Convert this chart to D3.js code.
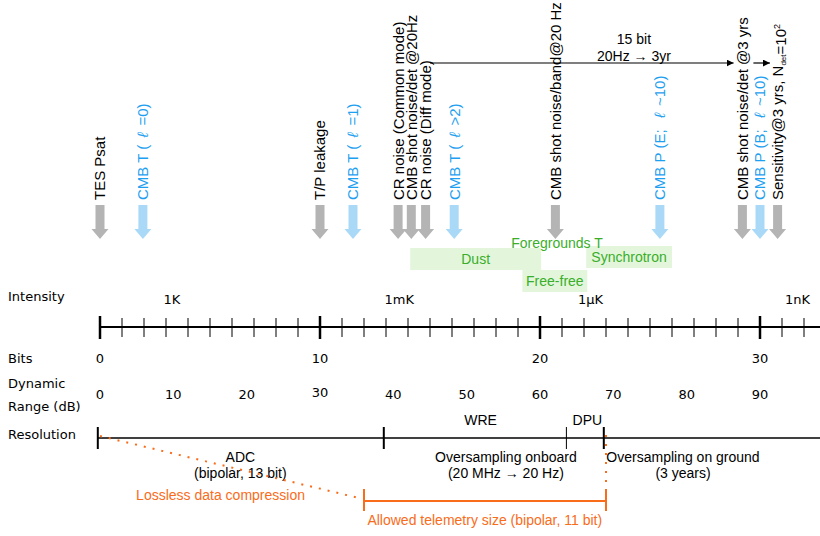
<!DOCTYPE html>
<html>
<head>
<meta charset="utf-8">
<script src="https://cdn.jsdelivr.net/npm/d3@7"></script>
<style>
  body { margin: 0; background: #fff; }
  text { font-family: "Liberation Sans", Arial, sans-serif; white-space: pre; }
  .verd { font-family: "DejaVu Sans", Verdana, sans-serif; font-size: 13px; }
</style>
</head>
<body>
<div id="chart"></div>
<script>
// ---- data (positions along the axis are in bits) ----
const bitTicks = d3.range(0, 33);
const bitMajor = [0, 10, 20, 30];
const intensityLabels = ["1K", "1mK", "1\u03bcK", "1nK"];
const intensityBits = [3.27, 13.6, 22.3, 31.7];
const dbTicks = [0, 10, 20, 30, 40, 50, 60, 70, 80, 90];

const markerLabels = ["TES Psat", "CMB T ( \u2009\u2113\u2009 =0)", "T/P leakage", "CMB T ( \u2009\u2113\u2009 =1)",
  "CR noise (Common mode)", "CMB shot noise/det @20Hz", "CR noise (Diff mode)", "CMB T ( \u2009\u2113\u2009 >2)",
  "CMB shot noise/band@20 Hz", "CMB P (E;  \u2009\u2113\u2009 ~10)", "CMB shot noise/det @3 yrs",
  "CMB P (B;  \u2009\u2113\u2009 ~10)", "Sensitivity@3 yrs, N_det=10^2"];
const markerBits = [0, 1.95, 10, 11.5, 13.55, 14.15, 14.8, 16.1, 20.7, 25.45, 29.2, 30.0, 30.8];
const markerType = ["n", "c", "n", "c", "n", "n", "n", "c", "n", "c", "n", "c", "n"];

const fgNames = ["Dust", "Free-free", "Synchrotron"];
const fgStart = [14.1, 19.2, 22.1];
const fgEnd = [20.05, 22.15, 26.0];

const resTickBits = [-0.1, 12.9, 21.2, 22.9];
const resTickMajor = [true, true, false, true];
const stageTop = ["WRE", "DPU"];
const stageTopBits = [17.3, 22.15];
const stageLabels = [["ADC", "(bipolar, 13 bit)"], ["Oversampling onboard", "(20 MHz \u2192 20 Hz)"],
  ["Oversampling on ground", "(3 years)"]];
const stageBits = [6.38, 18.45, 26.5];

const telemetryBits = [12, 23];
const oversampleBits = [15.0, 28.8];
const oversampleBits2 = [29.7, 30.45];

// ---- layout ----
const W = 820, H = 536;
const gray = "#b4b4b4", lblue = "#aad9f7", blue = "#1ea0f0", green = "#3aae2a",
  lgreen = "#e3f6dc", orange = "#f96c1a";

const x = d3.scaleLinear().domain([0, 30]).range([100, 760]);
const xdb = d3.scaleLinear().domain([0, 90]).range([100, 760]);

const svg = d3.select("#chart").append("svg").attr("width", W).attr("height", H);

const defs = svg.append("defs");
defs.append("marker").attr("id", "ah").attr("viewBox", "0 0 10 10")
  .attr("refX", 10).attr("refY", 5).attr("markerWidth", 7).attr("markerHeight", 7)
  .attr("markerUnits", "userSpaceOnUse").attr("orient", "auto")
  .append("path").attr("d", "M0,0L10,5L0,10z").attr("fill", "#000");

// row labels
const rows = [["Intensity", 301], ["Bits", 363], ["Dynamic", 388], ["Range (dB)", 411], ["Resolution", 439]];
svg.selectAll("text.row").data(rows).join("text").attr("class", "row verd")
  .attr("x", 8).attr("y", d => d[1]).text(d => d[0]);

// intensity axis
const axY = 327;
svg.append("line").attr("x1", x(0)).attr("x2", W).attr("y1", axY).attr("y2", axY)
  .attr("stroke", "#000").attr("stroke-width", 2);
svg.selectAll("line.bt").data(bitTicks).join("line").attr("class", "bt")
  .attr("x1", d => x(d)).attr("x2", d => x(d))
  .attr("y1", d => bitMajor.includes(d) ? axY - 11 : axY - 9)
  .attr("y2", d => bitMajor.includes(d) ? axY + 12 : axY + 10)
  .attr("stroke", "#000").attr("stroke-width", d => bitMajor.includes(d) ? 2.5 : 1);
svg.selectAll("text.int").data(intensityLabels).join("text").attr("class", "int verd")
  .attr("x", (d, i) => x(intensityBits[i])).attr("y", 304).attr("text-anchor", "middle").text(d => d);
svg.selectAll("text.bits").data(bitMajor).join("text").attr("class", "bits verd")
  .attr("x", d => x(d)).attr("y", 363).attr("text-anchor", "middle").text(d => d);
svg.selectAll("text.db").data(dbTicks).join("text").attr("class", "db verd")
  .attr("x", d => xdb(d)).attr("y", d => d === 30 ? 397 : 399).attr("text-anchor", "middle").text(d => d);

// arrows
const shaftW = 9, headW = 17, top0 = 205, headY = 229, tip = 239;
svg.selectAll("path.arr").data(markerBits).join("path").attr("class", "arr")
  .attr("d", d => {
    const cx = x(d);
    return `M${cx - shaftW / 2},${top0}H${cx + shaftW / 2}V${headY}H${cx + headW / 2}L${cx},${tip}L${cx - headW / 2},${headY}H${cx - shaftW / 2}Z`;
  })
  .attr("fill", (d, i) => markerType[i] === "c" ? lblue : gray);

// rotated labels
function addRich(sel, s) {
  // handle ℓ (italic), _sub and ^sup
  const re = /(\u2113|_[a-z]+|\^[0-9]+)/;
  s.split(re).filter(p => p !== "").forEach(p => {
    if (p === "\u2113") sel.append("tspan").attr("font-style", "italic").text(p);
    else if (p[0] === "_") {
      sel.append("tspan").attr("font-size", "8px").attr("dy", 3).text(p.slice(1));
      sel.append("tspan").attr("dy", -3).text("");
    } else if (p[0] === "^") {
      sel.append("tspan").attr("font-size", "9px").attr("dy", -6).text(p.slice(1));
    } else sel.append("tspan").text(p);
  });
}
markerLabels.forEach((lab, i) => {
  const t = svg.append("text")
    .attr("transform", `translate(${x(markerBits[i])},200) rotate(-90)`)
    .attr("dy", "0.36em").attr("font-size", "15px")
    .attr("fill", markerType[i] === "c" ? blue : "#000");
  addRich(t, lab);
});

// 15-bit oversampling arrows
svg.append("line").attr("x1", x(oversampleBits[0])).attr("x2", x(oversampleBits[1]))
  .attr("y1", 63).attr("y2", 63).attr("stroke", "#000").attr("stroke-width", 1.2)
  .attr("marker-end", "url(#ah)");
svg.append("line").attr("x1", x(oversampleBits2[0])).attr("x2", x(oversampleBits2[1]))
  .attr("y1", 63).attr("y2", 63).attr("stroke", "#000").attr("stroke-width", 1.2)
  .attr("marker-end", "url(#ah)");
const midOS = x(24.27);
svg.append("text").attr("x", midOS).attr("y", 44).attr("text-anchor", "middle")
  .attr("font-size", "14px").text("15 bit");
svg.append("text").attr("x", midOS).attr("y", 61).attr("text-anchor", "middle")
  .attr("font-size", "14px").text("20Hz \u2192 3yr");

// foregrounds
const fgTop = { "Dust": 248, "Free-free": 270, "Synchrotron": 246 };
fgNames.forEach((n, i) => {
  svg.append("rect").attr("x", x(fgStart[i])).attr("y", fgTop[n])
    .attr("width", x(fgEnd[i]) - x(fgStart[i])).attr("height", 22).attr("fill", lgreen);
  svg.append("text").attr("x", (x(fgStart[i]) + x(fgEnd[i])) / 2).attr("y", fgTop[n] + 16)
    .attr("text-anchor", "middle").attr("font-size", "14px").attr("fill", green).text(n);
});
svg.append("text").attr("x", x(20.77)).attr("y", 247.5).attr("text-anchor", "middle")
  .attr("font-size", "14px").attr("fill", green).text("Foregrounds T");

// resolution line
const rY = 438;
svg.append("line").attr("x1", x(resTickBits[0])).attr("x2", W).attr("y1", rY).attr("y2", rY)
  .attr("stroke", "#000").attr("stroke-width", 1.5);
svg.selectAll("line.rt").data(resTickBits).join("line").attr("class", "rt")
  .attr("x1", d => x(d)).attr("x2", d => x(d)).attr("y1", rY - 11).attr("y2", rY + 11)
  .attr("stroke", "#000").attr("stroke-width", (d, i) => resTickMajor[i] ? 2 : 1);
svg.selectAll("text.st").data(stageTop).join("text").attr("class", "st")
  .attr("x", (d, i) => x(stageTopBits[i])).attr("y", 425).attr("text-anchor", "middle")
  .attr("font-size", "14px").text(d => d);
stageLabels.forEach((pair, i) => {
  pair.forEach((s, j) => {
    svg.append("text").attr("x", x(stageBits[i])).attr("y", 462 + j * 16)
      .attr("text-anchor", "middle").attr("font-size", "14px").text(s);
  });
});

// orange: lossless compression and telemetry
const tY = 501;
svg.append("line").attr("x1", x(0)).attr("y1", rY - 2).attr("x2", x(telemetryBits[0]) - 5).attr("y2", tY - 3)
  .attr("stroke", orange).attr("stroke-width", 2).attr("stroke-dasharray", "2,7");
svg.append("line").attr("x1", x(telemetryBits[1])).attr("x2", x(telemetryBits[1]))
  .attr("y1", rY - 3).attr("y2", tY - 12)
  .attr("stroke", orange).attr("stroke-width", 2).attr("stroke-dasharray", "2,7");
svg.append("line").attr("x1", x(telemetryBits[0])).attr("x2", x(telemetryBits[1]))
  .attr("y1", tY).attr("y2", tY).attr("stroke", orange).attr("stroke-width", 2);
telemetryBits.forEach(b => {
  svg.append("line").attr("x1", x(b)).attr("x2", x(b)).attr("y1", tY - 12).attr("y2", tY + 10)
    .attr("stroke", orange).attr("stroke-width", 2);
});
svg.append("text").attr("x", x(5.48)).attr("y", 500).attr("text-anchor", "middle")
  .attr("font-size", "14px").attr("fill", orange).text("Lossless data compression");
svg.append("text").attr("x", x(17.49)).attr("y", 525).attr("text-anchor", "middle")
  .attr("font-size", "14px").attr("fill", orange).text("Allowed telemetry size (bipolar, 11 bit)");
</script>
</body>
</html>
